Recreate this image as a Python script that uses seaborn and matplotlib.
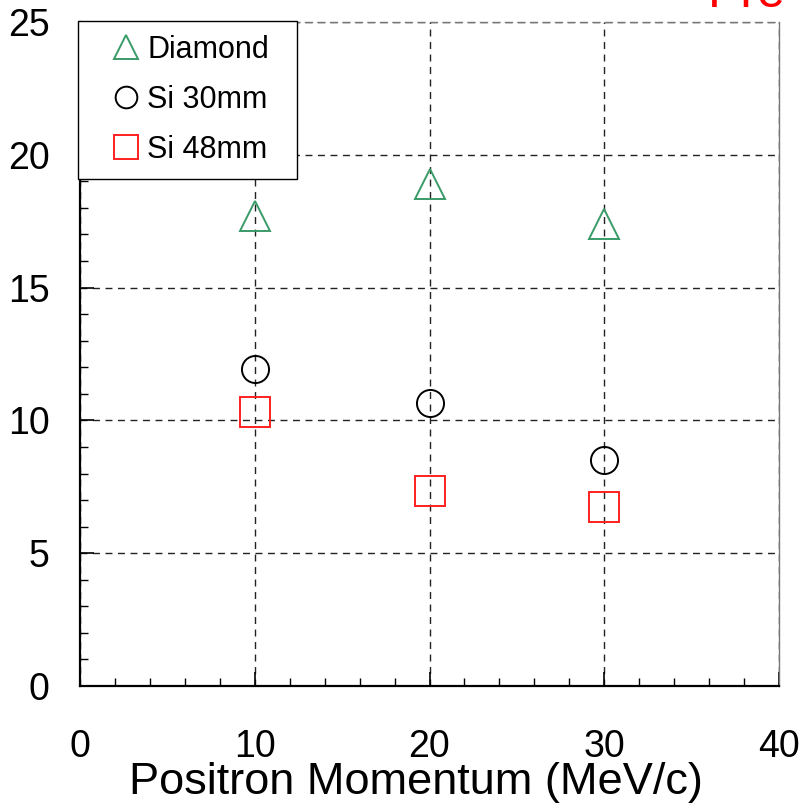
import matplotlib
matplotlib.use("Agg")
import matplotlib.pyplot as plt
from matplotlib.ticker import MultipleLocator
import seaborn as sns
import pandas as pd

# values
momentum = [10, 20, 30]
diamond = [17.7, 18.9, 17.4]
si_30mm = [11.95, 10.65, 8.5]
si_48mm = [10.3, 7.35, 6.75]

series = [("Diamond", diamond, "^", "#3a9a68", 22),
          ("Si 30mm", si_30mm, "o", "black", 19.5),
          ("Si 48mm", si_48mm, "s", "#ff2020", 21.5)]

sns.set_theme(style="white")
plt.rcParams['font.family'] = ['Liberation Sans', 'DejaVu Sans']
plt.rcParams['text.color'] = 'black'
plt.rcParams['axes.labelcolor'] = 'black'
plt.rcParams['xtick.color'] = 'black'
plt.rcParams['ytick.color'] = 'black'

fig = plt.figure(figsize=(8.02, 8.08), dpi=100)
ax = fig.add_axes([80/802, 1 - 686/808, 699/802, 664/808])

for name, vals, mk, col, ms in series:
    df = pd.DataFrame({'p': momentum, 'v': vals})
    sns.lineplot(data=df, x='p', y='v', ax=ax, marker=mk, linestyle='',
                 markersize=ms, markerfacecolor='none', markeredgecolor=col,
                 markeredgewidth=1.4, color=col, label=name)

ax.set_xlim(0, 40)
ax.set_ylim(0, 25)
ax.xaxis.set_major_locator(MultipleLocator(10))
ax.xaxis.set_minor_locator(MultipleLocator(2))
ax.yaxis.set_major_locator(MultipleLocator(5))
ax.yaxis.set_minor_locator(MultipleLocator(1))

ax.grid(True, which='major', linestyle=(0, (5, 4)), color='#222222', linewidth=1.0)
ax.tick_params(which='both', direction='in', color='black', bottom=True, left=True,
               top=False, right=False)
ax.tick_params(which='major', length=10, width=1.2)
ax.tick_params(which='minor', length=6, width=1.0)
ax.tick_params(axis='x', which='major', labelsize=27, pad=31)
ax.tick_params(axis='y', which='major', labelsize=27, pad=22)

for s in ['left', 'bottom']:
    ax.spines[s].set_color('black')
    ax.spines[s].set_linewidth(1.6)
ax.spines['top'].set_color('#777777')
ax.spines['top'].set_linestyle((0, (5, 4)))
ax.spines['top'].set_linewidth(1.0)
ax.spines['right'].set_color('#777777')
ax.spines['right'].set_linewidth(1.0)

ax.set_xlabel("Positron Momentum (MeV/c)", fontsize=32.5, labelpad=-2,
              x=(416 - 80) / 699)
ax.set_ylabel("")

leg_top = 1 - 21/808
leg_h = 153/808
leg = ax.legend(loc='upper left', bbox_to_anchor=(78/802, leg_top - leg_h, 219/802, leg_h),
                bbox_transform=fig.transFigure, mode='expand', borderaxespad=0,
                fontsize=22, markerscale=0.8, frameon=True, fancybox=False,
                borderpad=0.45, handlelength=2.24, handletextpad=-0.43,
                labelspacing=0.66, framealpha=1)
leg.get_frame().set_edgecolor('black')
leg.get_frame().set_linewidth(1.0)

fig.text(708/802, 1 - 7/808, "Pre", color='red', fontsize=36, va='baseline', ha='left')

fig.savefig("out.png", dpi=100)
